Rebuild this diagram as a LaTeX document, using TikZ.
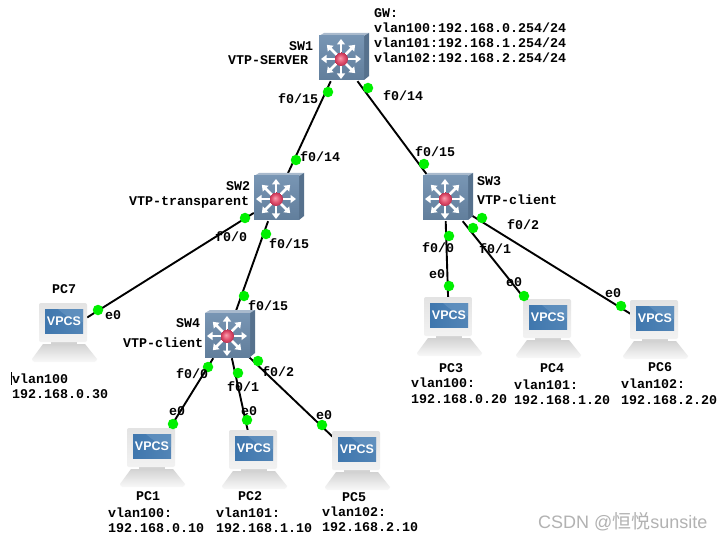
\documentclass[tikz,border=0pt]{standalone}
\usepackage{fontspec}
\setmainfont{Liberation Sans}
\newfontfamily\monolabel{Liberation Mono}[BoldFont={Liberation Mono Bold}]
\newfontfamily\cjkmark{Noto Sans CJK SC}
\usetikzlibrary{arrows.meta,shadings}
\definecolor{linkgreen}{HTML}{00F000}
\definecolor{swfront}{HTML}{6C8CAD}
\definecolor{swtop}{HTML}{A9BACD}
\definecolor{swside}{HTML}{56718D}
\definecolor{screenblue}{HTML}{3F77AE}
\definecolor{screenlite}{HTML}{6C9AC6}
\definecolor{ledhi}{HTML}{F8A0B0}
\definecolor{ledmid}{HTML}{E2506E}
\definecolor{ledlo}{HTML}{B83050}
\pgfdeclareradialshading{ledball}{\pgfpoint{-4bp}{4bp}}{%
  color(0bp)=(ledhi); color(14bp)=(ledmid); color(25bp)=(ledlo)}
\tikzset{
  link/.style={line width=1.9pt,black},
  port/.style={circle,fill=linkgreen,draw=none,minimum size=10.5pt,inner sep=0pt},
  switchdev/.style={rectangle,minimum width=44pt,minimum height=44pt,inner sep=0pt},
  pcdev/.style={rectangle,minimum width=46pt,minimum height=56pt,inner sep=0pt},
  lbl/.style={font=\monolabel\bfseries\fontsize{13.33}{15}\selectfont,inner sep=0pt,text height=8pt,text depth=0pt,anchor=west},
  block/.style={font=\monolabel\bfseries\fontsize{13.33}{15}\selectfont,inner sep=0pt,align=left,anchor=north west},
  ray/.style={white,line width=2.8pt,-{Triangle[width=8pt,length=5.5pt]}},
  switchicon/.pic={
    \fill[swtop] (-22,-23) -- (-17,-26) -- (28,-26) -- (23,-23) -- cycle;
    \fill[swside] (23,-23) -- (28,-26) -- (28,17) -- (23,21) -- cycle;
    \shade[top color=swfront!92!white,bottom color=swfront!90!black] (-22,-23) rectangle (23,21);
    \foreach \a in {0,45,...,315}
      \draw[ray] (0,0) -- (\a:20);
    \shade[shading=ledball] (0,0) circle (7);
  },
  pcicon/.pic={
    \shade[top color=gray!35,bottom color=gray!5] (-21,12) -- (21,12) -- (33,27) to[out=-90,in=0] (30,30) -- (-29,30) to[out=180,in=-90] (-32,27) -- cycle;
    \fill[gray!35] (-13,9) rectangle (13,13);
    \shade[rounded corners=2pt,top color=gray!22,bottom color=gray!10] (-25,-29) rectangle (23,10);
    \shade[left color=screenblue,right color=screenblue!90!white] (-19,-23) rectangle (19,1);
    \fill[screenlite,opacity=.55] (-6,-23) -- (19,-23) -- (19,-10) to[bend left=15] cycle;
    \node[white,inner sep=0pt,font=\bfseries\fontsize{12.5}{12.5}\selectfont] (-screen) at (0,-11) {VPCS};
  }
}
\begin{document}
\begin{tikzpicture}[x=1pt,y=-1pt]
\useasboundingbox (0,0) rectangle (723,540);
\fill[white] (0,0) rectangle (723,540);

% devices
\node[switchdev] (sw1) at (341,59) {};
\node[switchdev] (sw2) at (276,199) {};
\node[switchdev] (sw3) at (445,199) {};
\node[switchdev] (sw4) at (227,336) {};
\node[pcdev] (pc7) at (64,332) {};
\node[pcdev] (pc1) at (152,457) {};
\node[pcdev] (pc2) at (254,459) {};
\node[pcdev] (pc5) at (357,460) {};
\node[pcdev] (pc3) at (449,326) {};
\node[pcdev] (pc4) at (548,328) {};
\node[pcdev] (pc6) at (655,329) {};

% links
\draw[link] (sw1) -- (sw2);
\draw[link] (sw1) -- (sw3);
\draw[link] (sw2) -- (pc7);
\draw[link] (sw2) -- (sw4);
\draw[link] (sw4) -- (pc1);
\draw[link] (sw4) -- (pc2);
\draw[link] (sw4) -- (pc5);
\draw[link] (sw3) -- (pc3);
\draw[link] (sw3) -- (pc4);
\draw[link] (sw3) -- (pc6);

% device icons
\foreach \n in {sw1,sw2,sw3,sw4}
  \pic (\n icon) at (\n) {switchicon};
\foreach \n in {pc1,pc2,pc3,pc4,pc5,pc6,pc7}
  \pic (\n icon) at (\n) {pcicon};

% port markers
\node[port] (p1) at (328,92) {};
\node[port] (p2) at (296,160) {};
\node[port] (p3) at (368,88) {};
\node[port] (p4) at (424,164) {};
\node[port] (p5) at (245,218) {};
\node[port] (p6) at (98,310) {};
\node[port] (p7) at (266,234) {};
\node[port] (p8) at (244,296) {};
\node[port] (p9) at (208,367) {};
\node[port] (p10) at (173,424) {};
\node[port] (p11) at (238,373) {};
\node[port] (p12) at (247,420) {};
\node[port] (p13) at (258,361) {};
\node[port] (p14) at (322,425) {};
\node[port] (p15) at (449,236) {};
\node[port] (p16) at (449,286) {};
\node[port] (p17) at (473,228) {};
\node[port] (p18) at (524,296) {};
\node[port] (p19) at (482,218) {};
\node[port] (p20) at (621,306) {};

% interface names
\node[lbl] (l1) at (278,100) {f0/15};
\node[lbl] (l2) at (383,97) {f0/14};
\node[lbl] (l3) at (300,158) {f0/14};
\node[lbl] (l4) at (415,153) {f0/15};
\node[lbl] (l5) at (215,237) {f0/0};
\node[lbl] (l6) at (269,245) {f0/15};
\node[lbl] (l7) at (507,226) {f0/2};
\node[lbl] (l8) at (479,250) {f0/1};
\node[lbl] (l9) at (422,248) {f0/0};
\node[lbl] (l10) at (429,275) {e0};
\node[lbl] (l11) at (506,283) {e0};
\node[lbl] (l12) at (605,294) {e0};
\node[lbl] (l13) at (105,315) {e0};
\node[lbl] (l14) at (248,306) {f0/15};
\node[lbl] (l15) at (176,374) {f0/0};
\node[lbl] (l16) at (227,387) {f0/1};
\node[lbl] (l17) at (262,372) {f0/2};
\node[lbl] (l18) at (169,411) {e0};
\node[lbl] (l19) at (241,411) {e0};
\node[lbl] (l20) at (316,415) {e0};

% device names and roles
\node[lbl] (n1) at (289,47) {SW1};
\node[lbl] (n2) at (228,61) {VTP-SERVER};
\node[lbl] (n3) at (226,187) {SW2};
\node[lbl] (n4) at (129,202) {VTP-transparent};
\node[lbl] (n5) at (477,182) {SW3};
\node[lbl] (n6) at (477,201) {VTP-client};
\node[lbl] (n7) at (176,323) {SW4};
\node[lbl] (n8) at (123,343) {VTP-client};
\node[lbl] (n9) at (52,289) {PC7};
\node[lbl] (n10) at (136,496) {PC1};
\node[lbl] (n11) at (238,496) {PC2};
\node[lbl] (n12) at (342,497) {PC5};
\node[lbl] (n13) at (439,368) {PC3};
\node[lbl] (n14) at (540,368) {PC4};
\node[lbl] (n15) at (648,367) {PC6};

% addressing
\node[block] (a0) at (374,8) {GW:\\vlan100:192.168.0.254/24\\vlan101:192.168.1.254/24\\vlan102:192.168.2.254/24};
\node[block] (a1) at (12,374) {vlan100\\192.168.0.30};
\node[block] (a2) at (108,508) {vlan100:\\192.168.0.10};
\node[block] (a3) at (216,508) {vlan101:\\192.168.1.10};
\node[block] (a4) at (322,507) {vlan102:\\192.168.2.10};
\node[block] (a5) at (411,378) {vlan100:\\[1pt]192.168.0.20};
\node[block] (a6) at (514,380) {vlan101:\\192.168.1.20};
\node[block] (a7) at (621,379) {vlan102:\\[1pt]192.168.2.20};
\draw[black,line width=.6pt] (11.5,372) -- (11.5,385);

% credit line
\node[inner sep=0pt,anchor=west,text=gray!60,font=\fontsize{18}{18}\selectfont] (credit) at (538,522) {CSDN @{\cjkmark\fontsize{19}{19}\selectfont 恒悦}sunsite};
\end{tikzpicture}
\end{document}
